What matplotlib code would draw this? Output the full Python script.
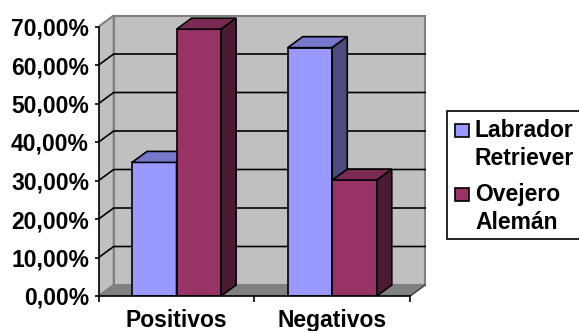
import matplotlib
matplotlib.use("Agg")
import matplotlib.pyplot as plt
from matplotlib.patches import Polygon, Rectangle

# datos del gráfico
categorias = ["Positivos", "Negativos"]
labrador = [34.7, 64.5]
ovejero = [69.3, 30.1]
series = [["Labrador", "Retriever"], ["Ovejero", "Alemán"]]
yticks = [0, 10, 20, 30, 40, 50, 60, 70]

plt.rcParams['font.family'] = ['Liberation Sans', 'DejaVu Sans']
plt.rcParams['font.weight'] = 'bold'
fs = 16.5

W, H = 579, 331
fig = plt.figure(figsize=(W / 100, H / 100), dpi=100)

# escala: px por unidad de categoria y por punto porcentual
sx, sy = 155.7, 3.85
ax = fig.add_axes([98.7 / W, (H - 296) / H, 2.2 * sx / W, 75 * sy / H])
ax.set_xlim(0, 2.2)
ax.set_ylim(0, 75)
ax.patch.set_alpha(0)

# profundidad 3D
dx = 15 / sx
dy = 11 / sy
ymax = 70

gris = "#c0c0c0"
gris_osc = "#808080"

# pared del fondo y pared lateral
ax.add_patch(Polygon([(dx, dy), (2 + dx, dy), (2 + dx, ymax + dy), (dx, ymax + dy)],
                     closed=True, fc=gris, ec=gris_osc, lw=1.5, zorder=1))
ax.add_patch(Polygon([(0, 0), (dx, dy), (dx, ymax + dy), (0, ymax)],
                     closed=True, fc=gris, ec=gris_osc, lw=1.5, zorder=1))
# piso
ax.add_patch(Polygon([(0, 0), (2, 0), (2 + dx, dy), (dx, dy)],
                     closed=True, fc=gris_osc, ec=gris_osc, lw=1, zorder=2))
ax.plot([2, 2 + dx], [0, dy], color="#404040", lw=1, zorder=2)

# lineas de division
for v in yticks[1:-1]:
    ax.plot([0, dx, 2 + dx], [v, v + dy, v + dy], color="black", lw=1.2, zorder=2)


def barra3d(x, w, h, cara, techo, lado):
    ax.add_patch(Rectangle((x, 0), w, h, fc=cara, ec="black", lw=1.2, zorder=3))
    ax.add_patch(Polygon([(x, h), (x + w, h), (x + w + dx, h + dy), (x + dx, h + dy)],
                         closed=True, fc=techo, ec="black", lw=1.2, zorder=3))
    ax.add_patch(Polygon([(x + w, 0), (x + w + dx, dy), (x + w + dx, h + dy), (x + w, h)],
                         closed=True, fc=lado, ec="black", lw=1.2, zorder=3))


w = 0.286
for i in range(len(categorias)):
    c = i + 0.5
    barra3d(c - w, w, labrador[i], "#9999ff", "#7777cc", "#4d4d80")
    barra3d(c, w, ovejero[i], "#993366", "#7a2952", "#4d1a33")

# ejes
for s in ["top", "right"]:
    ax.spines[s].set_visible(False)
ax.spines["left"].set_bounds(0, ymax)
ax.spines["bottom"].set_bounds(0, 2)
for s in ["left", "bottom"]:
    ax.spines[s].set_linewidth(1.2)
    ax.spines[s].set_zorder(4)

ax.set_yticks(yticks)
ax.set_yticklabels([f"{v:.2f}".replace(".", ",") + "%" for v in yticks])
ax.tick_params(axis="y", length=3, width=1.2, pad=4, labelsize=fs)

ax.set_xticks([0, 1, 2])
ax.set_xticklabels([])
ax.set_xticks([0.5, 1.5], minor=True)
ax.set_xticklabels(categorias, minor=True)
ax.tick_params(axis="x", which="major", length=4, width=1.2)
ax.tick_params(axis="x", which="minor", length=0, pad=9.5, labelsize=fs)

# leyenda
lax = fig.add_axes([0, 0, 1, 1])
lax.set_xlim(0, W)
lax.set_ylim(H, 0)
lax.axis("off")
lax.add_patch(Rectangle((446.7, 111), 150, 128, fc="white", ec="black", lw=1.2))
colores = ["#9999ff", "#993366"]
for k, (lin1, lin2) in enumerate(series):
    y0 = 136.7 + k * 64.5
    lax.add_patch(Rectangle((455, y0 - 13), 14, 13, fc=colores[k], ec="black", lw=1.2))
    lax.text(475, y0, lin1, fontsize=fs, va="baseline", ha="left")
    lax.text(475, y0 + 28, lin2, fontsize=fs, va="baseline", ha="left")

fig.savefig("out.png", dpi=100)
